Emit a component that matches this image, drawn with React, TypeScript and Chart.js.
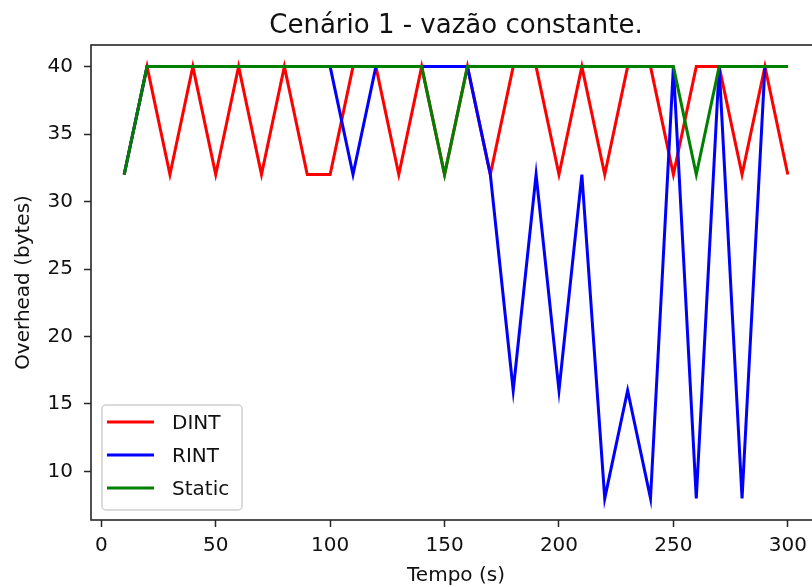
import React, { useEffect, useRef } from "react";
import { Chart, registerables } from "chart.js";

Chart.register(...registerables);

const titleText = "Cenário 1 - vazão constante.";
const xLabel = "Tempo (s)";
const yLabel = "Overhead (bytes)";

const times = [10, 20, 30, 40, 50, 60, 70, 80, 90, 100, 110, 120, 130, 140, 150, 160, 170, 180, 190, 200, 210, 220, 230, 240, 250, 260, 270, 280, 290, 300];
const dint = [32, 40, 32, 40, 32, 40, 32, 40, 32, 32, 40, 40, 32, 40, 32, 40, 32, 40, 40, 32, 40, 32, 40, 40, 32, 40, 40, 32, 40, 32];
const rint = [32, 40, 40, 40, 40, 40, 40, 40, 40, 40, 32, 40, 40, 40, 40, 40, 32, 16, 32, 16, 32, 8, 16, 8, 40, 8, 40, 8, 40, 40];
const staticSeries = [32, 40, 40, 40, 40, 40, 40, 40, 40, 40, 40, 40, 40, 40, 32, 40, 40, 40, 40, 40, 40, 40, 40, 40, 40, 32, 40, 40, 40, 40];

const seriesLabels = ["DINT", "RINT", "Static"];
const seriesColors = ["#ff0000", "#0000ff", "#008000"];

const xTickStep = 50;
const yTickStep = 5;

const FONT = "'DejaVu Sans', sans-serif";

const framePlugin = {
  id: "frameAndText",
  afterDraw(chart: any) {
    const { ctx, chartArea } = chart;
    const { left, right, top, bottom } = chartArea;
    ctx.save();
    // frame
    ctx.strokeStyle = "#262626";
    ctx.lineWidth = 1.6;
    ctx.strokeRect(left, top, right - left, bottom - top);
    // title
    ctx.fillStyle = "#111";
    ctx.font = `26px ${FONT}`;
    ctx.textAlign = "center";
    ctx.textBaseline = "alphabetic";
    ctx.fillText(titleText, (left + right) / 2, 33);
    // legend
    const bx = left + 11;
    const by = bottom - 115;
    const bw = 140;
    const bh = 105;
    const r = 4;
    ctx.beginPath();
    ctx.moveTo(bx + r, by);
    ctx.lineTo(bx + bw - r, by);
    ctx.arcTo(bx + bw, by, bx + bw, by + r, r);
    ctx.lineTo(bx + bw, by + bh - r);
    ctx.arcTo(bx + bw, by + bh, bx + bw - r, by + bh, r);
    ctx.lineTo(bx + r, by + bh);
    ctx.arcTo(bx, by + bh, bx, by + bh - r, r);
    ctx.lineTo(bx, by + r);
    ctx.arcTo(bx, by, bx + r, by, r);
    ctx.closePath();
    ctx.fillStyle = "rgba(255,255,255,0.8)";
    ctx.fill();
    ctx.strokeStyle = "#d0d0d0";
    ctx.lineWidth = 1.5;
    ctx.stroke();
    ctx.font = `20px ${FONT}`;
    ctx.textAlign = "left";
    ctx.textBaseline = "middle";
    chart.data.datasets.forEach((ds: any, i: number) => {
      const ly = by + 17 + i * 33;
      ctx.strokeStyle = ds.borderColor;
      ctx.lineWidth = 3;
      ctx.beginPath();
      ctx.moveTo(bx + 5, ly);
      ctx.lineTo(bx + 52, ly);
      ctx.stroke();
      ctx.fillStyle = "#111";
      ctx.fillText(ds.label, bx + 70, ly + 2);
    });
    ctx.restore();
  },
};

export default function App() {
  const ref = useRef<HTMLCanvasElement>(null);
  useEffect(() => {
    document.body.style.margin = "0";
    const canvas = ref.current;
    if (!canvas) return;
    const allSeries = [dint, rint, staticSeries];
    const chart = new Chart(canvas, {
      type: "line",
      data: {
        datasets: allSeries.map((s, i) => ({
          label: seriesLabels[i],
          data: times.map((t, j) => ({ x: t, y: s[j] })),
          borderColor: seriesColors[i],
          backgroundColor: seriesColors[i],
          borderWidth: 3,
          pointRadius: 0,
          tension: 0,
          fill: false,
          order: allSeries.length - i,
        })),
      },
      options: {
        animation: false,
        responsive: false,
        devicePixelRatio: 1,
        layout: { padding: { top: 45, right: 9, left: 0, bottom: 0 } },
        plugins: {
          legend: { display: false },
          title: { display: false },
          tooltip: { enabled: false },
        },
        scales: {
          x: {
            type: "linear",
            min: -4.5,
            max: 314.5,
            afterFit: (s: any) => {
              s.height = 80;
            },
            ticks: {
              stepSize: xTickStep,
              includeBounds: false,
              padding: 7,
              maxRotation: 0,
              autoSkip: false,
              color: "#111",
              font: { family: FONT, size: 20 },
            },
            grid: {
              drawOnChartArea: false,
              drawTicks: true,
              tickLength: 7,
              tickWidth: 1.5,
              tickColor: "#262626",
            },
            border: { display: false },
            title: {
              display: true,
              text: xLabel,
              color: "#111",
              font: { family: FONT, size: 20 },
              padding: { top: 0, bottom: 12 },
            },
          },
          y: {
            type: "linear",
            min: 6.4,
            max: 41.6,
            afterFit: (s: any) => {
              s.width = 91;
            },
            ticks: {
              stepSize: yTickStep,
              includeBounds: false,
              padding: 11,
              color: "#111",
              font: { family: FONT, size: 20 },
            },
            grid: {
              drawOnChartArea: false,
              drawTicks: true,
              tickLength: 7,
              tickWidth: 1.5,
              tickColor: "#262626",
            },
            border: { display: false },
            title: {
              display: true,
              text: yLabel,
              color: "#111",
              font: { family: FONT, size: 20 },
              padding: { top: 11.5, bottom: 0 },
            },
          },
        },
      },
      plugins: [framePlugin],
    });
    return () => chart.destroy();
  }, []);
  return (
    <div style={{ position: "fixed", left: 0, top: 0, width: 812, height: 587, overflow: "hidden", background: "#fff" }}>
      <canvas ref={ref} width={830} height={600} style={{ width: 830, height: 600, display: "block" }} />
    </div>
  );
}
